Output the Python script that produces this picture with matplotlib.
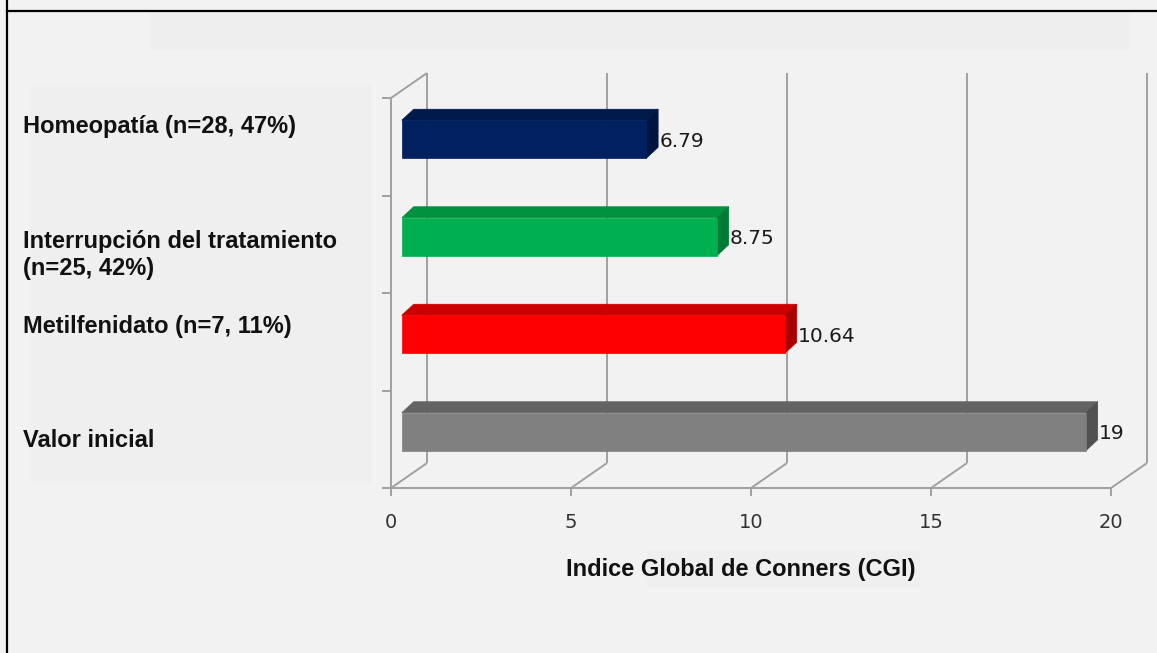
import matplotlib
matplotlib.use("Agg")
import matplotlib.pyplot as plt
from matplotlib.patches import Rectangle, Polygon
from matplotlib.lines import Line2D

# data (top to bottom, as in the picture)
categories = ["Homeopatía (n=28, 47%)",
              "Interrupción del tratamiento\n(n=25, 42%)",
              "Metilfenidato (n=7, 11%)",
              "Valor inicial"]
values = [6.79, 8.75, 10.64, 19]
value_labels = ["6.79", "8.75", "10.64", "19"]
x_ticks = [0, 5, 10, 15, 20]
x_title = "Indice Global de Conners (CGI)"

front_colors = ["#002060", "#00B050", "#FF0000", "#808080"]
top_colors = ["#001a4c", "#00923f", "#cc0000", "#636363"]
side_colors = ["#001441", "#007a34", "#a80000", "#505050"]

W, H = 1157, 653
BG = "#f2f2f2"
GRID = "#a0a0a0"

# 3d look
DEPTH_X, DEPTH_Y = 1.0, 0.256      # wall depth in data units
Z0 = 0.3                            # bar front position inside depth
BAR_DX, BAR_DY = 0.33, 0.113        # bar depth
BAR_H = 0.39

fig = plt.figure(figsize=(W / 100, H / 100), dpi=100, facecolor=BG)


def fx(px):
    return px / W


def fy(py):
    return 1 - py / H


# background panels
for (x0, y0, x1, y1, c) in [(150, 13, 1130, 50, "#eeeeee"),
                            (30, 85, 372, 483, "#efefef"),
                            (647, 550, 920, 588, "#efefef")]:
    fig.patches.append(Rectangle((fx(x0), fy(y1)), fx(x1) - fx(x0), fy(y0) - fy(y1),
                                 transform=fig.transFigure, facecolor=c,
                                 edgecolor="none", zorder=0))

# outer frame lines
fig.lines.append(Line2D([fx(7), 1], [fy(11), fy(11)], transform=fig.transFigure,
                        color="black", lw=1.6))
fig.lines.append(Line2D([fx(7), fx(7)], [0, 1], transform=fig.transFigure,
                        color="black", lw=1.6))

ax = fig.add_axes([fx(391), fy(488), fx(1111) - fx(391), fy(98) - fy(488)])
ax.set_xlim(0, 20)
ax.set_ylim(0, 4)
ax.axis("off")
ax.patch.set_alpha(0)

n = len(categories)
kw = dict(color=GRID, lw=1.4, clip_on=False, zorder=1, solid_capstyle="butt")

# floor front edge, left wall front edge
ax.plot([0, 20], [0, 0], **kw)
ax.plot([0, 0], [0, n], **kw)
ax.plot([0, DEPTH_X], [n, n + DEPTH_Y], **kw)
for t in x_ticks:
    ax.plot([t, t + DEPTH_X], [0, DEPTH_Y], **kw)
    ax.plot([t + DEPTH_X, t + DEPTH_X], [DEPTH_Y, n + DEPTH_Y], **kw)
    ax.plot([t, t], [0, -0.085], **kw)
    ax.annotate(str(t), xy=(t, 0), xytext=(0, -24.5), textcoords="offset points",
                ha="center", va="center", fontsize=14, color="#333333",
                family="DejaVu Sans", annotation_clip=False)
for k in range(n + 1):
    ax.plot([0, -0.25], [k, k], **kw)

# bars
for i, (v, lab) in enumerate(zip(values, value_labels)):
    c = n - 0.5 - i
    yb = c - BAR_H / 2 + Z0 * DEPTH_Y
    yt = yb + BAR_H
    x0 = Z0 * DEPTH_X
    x1 = x0 + v
    ax.add_patch(Polygon([(x0, yt), (x1, yt), (x1 + BAR_DX, yt + BAR_DY),
                          (x0 + BAR_DX, yt + BAR_DY)], closed=True,
                         facecolor=top_colors[i], edgecolor=top_colors[i],
                         lw=0.5, clip_on=False, zorder=3))
    ax.add_patch(Polygon([(x1, yb), (x1, yt), (x1 + BAR_DX, yt + BAR_DY),
                          (x1 + BAR_DX, yb + BAR_DY)], closed=True,
                         facecolor=side_colors[i], edgecolor=side_colors[i],
                         lw=0.5, clip_on=False, zorder=3))
    ax.add_patch(Rectangle((x0, yb), v, BAR_H, facecolor=front_colors[i],
                           edgecolor=front_colors[i], lw=0.5, clip_on=False,
                           zorder=4))
    ax.text(x1 + BAR_DX + 0.03, (yb + yt) / 2 - 0.02, lab, ha="left", va="center",
            fontsize=14.5, color="#1a1a1a", family="DejaVu Sans", zorder=5)

# category labels (baseline of last line, in px)
label_base = [133, 275, 333, 447]
for lab, b in zip(categories, label_base):
    fig.text(fx(23), fy(b), lab, ha="left", va="baseline",
             fontsize=17, fontweight="bold", family="Liberation Sans",
             color="#111111", linespacing=1.2)

fig.text(fx(741), fy(576), x_title, ha="center", va="baseline",
         fontsize=17, fontweight="bold", family="Liberation Sans",
         color="#111111")

fig.savefig("out.png", dpi=100, facecolor=BG)
